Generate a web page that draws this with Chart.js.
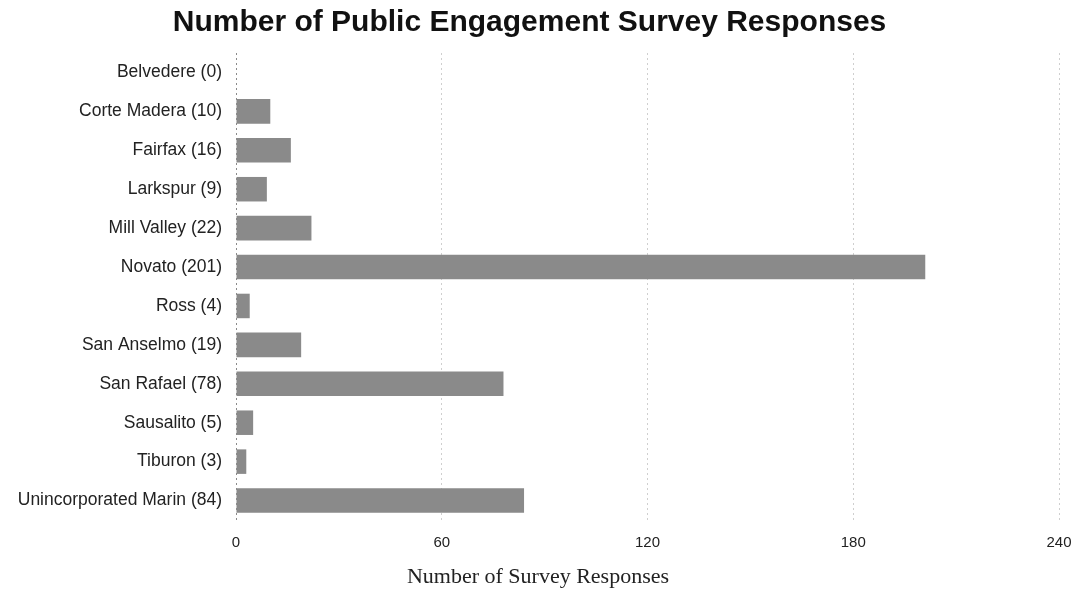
<!DOCTYPE html>
<html>
<head>
<meta charset="utf-8">
<script src="https://cdn.jsdelivr.net/npm/chart.js@4.4.1/dist/chart.umd.min.js"></script>
<style>
  html, body { margin: 0; padding: 0; background: #fff; }
  #wrap { width: 1076px; height: 590px; }
</style>
</head>
<body>
<div id="wrap"><canvas id="grafica"></canvas></div>
<script>
// datos
const municipios = ['Belvedere', 'Corte Madera', 'Fairfax', 'Larkspur', 'Mill Valley', 'Novato',
  'Ross', 'San Anselmo', 'San Rafael', 'Sausalito', 'Tiburon', 'Unincorporated Marin'];
const respuestas = [0, 10, 16, 9, 22, 201, 4, 19, 78, 5, 3, 84];
const ticksX = [0, 60, 120, 180, 240];

const etiquetas = municipios.map((m, i) => `${m} (${respuestas[i]})`);

// titulo del eje x centrado en la pagina, pegado al borde inferior
const tituloEjeX = {
  id: 'tituloEjeX',
  afterDraw(chart) {
    const { ctx } = chart;
    ctx.save();
    ctx.font = '22px "Liberation Serif", "Times New Roman", serif';
    ctx.fillStyle = '#222';
    ctx.textAlign = 'center';
    ctx.textBaseline = 'alphabetic';
    ctx.fillText('Number of Survey Responses', chart.width / 2, chart.height - 7);
    ctx.restore();
  }
};

new Chart(document.getElementById('grafica'), {
  type: 'bar',
  data: {
    labels: etiquetas,
    datasets: [{
      data: respuestas,
      backgroundColor: '#8a8a8a',
      borderWidth: 0,
      barPercentage: 0.63,
      categoryPercentage: 1
    }]
  },
  options: {
    indexAxis: 'y',
    responsive: true,
    maintainAspectRatio: false,
    animation: false,
    layout: { padding: { left: 0, right: 17, top: 0, bottom: 24 } },
    plugins: {
      legend: { display: false },
      tooltip: { enabled: false },
      title: {
        display: true,
        text: 'Number of Public Engagement Survey Responses',
        color: '#111',
        font: { family: '"Liberation Sans", Arial, sans-serif', size: 30, weight: 'bold' },
        padding: { top: 5, bottom: 12 }
      }
    },
    scales: {
      x: {
        min: 0,
        max: 240,
        afterBuildTicks: (scale) => { scale.ticks = ticksX.map((v) => ({ value: v })); },
        afterFit: (scale) => { scale.paddingRight = 0; scale.paddingLeft = 0; },
        grid: {
          color: (c) => (c.tick && c.tick.value === 0 ? '#8a8a8a' : '#cfcfcf'),
          lineWidth: 1,
          drawTicks: false
        },
        border: { display: false, dash: [2, 3] },
        ticks: {
          color: '#222',
          padding: 14,
          font: { family: '"Liberation Sans", Arial, sans-serif', size: 15 }
        }
      },
      y: {
        afterFit: (scale) => { scale.width = 236; },
        grid: { display: false, drawTicks: false },
        border: { display: false },
        ticks: {
          color: '#222',
          padding: 14,
          font: { family: '"Liberation Sans", Arial, sans-serif', size: 17.5 }
        }
      }
    }
  },
  plugins: [tituloEjeX]
});
</script>
</body>
</html>
